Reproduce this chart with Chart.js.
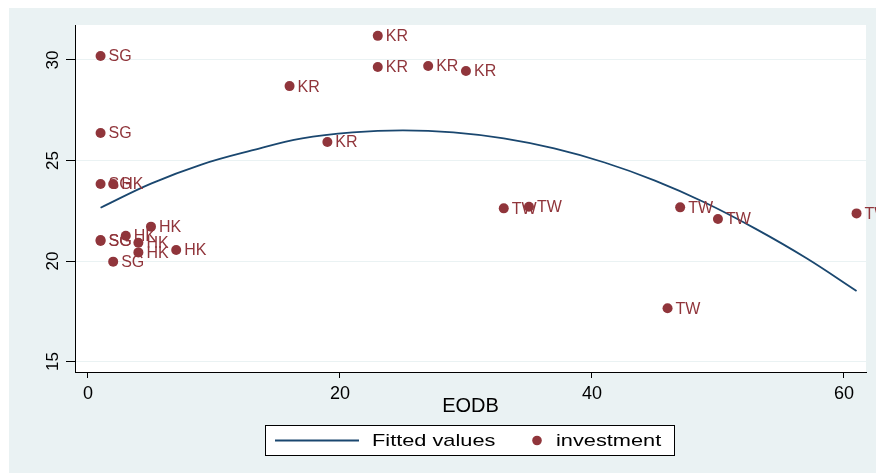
<!DOCTYPE html>
<html>
<head>
<meta charset="utf-8">
<script src="https://cdn.jsdelivr.net/npm/chart.js@4.4.1/dist/chart.umd.min.js"></script>
<style>
  html, body { margin: 0; padding: 0; background: #fff; }
  #wrap { width: 876px; height: 474px; }
</style>
</head>
<body>
<div id="wrap"><canvas id="chart" width="876" height="474"></canvas></div>
<script>
// investment vs EODB, one label per point
const pointLabels = [
  'SG', 'SG', 'SG', 'SG', 'SG', 'SG',
  'HK', 'HK', 'HK', 'HK', 'HK', 'HK',
  'KR', 'KR', 'KR', 'KR', 'KR', 'KR',
  'TW', 'TW', 'TW', 'TW', 'TW', 'TW'
];
const eodb = [
  1, 1, 1, 1, 1, 2,
  2, 3, 4, 4, 5, 7,
  23, 23, 27, 30, 16, 19,
  33, 35, 47, 50, 61, 46
];
const investment = [
  30.2, 26.37, 23.83, 21.04, 21.0, 19.97,
  23.83, 21.26, 20.91, 20.43, 21.71, 20.55,
  31.2, 29.65, 29.7, 29.45, 28.7, 25.92,
  22.62, 22.7, 22.67, 22.09, 22.37, 17.65
];

// fitted values, every 4 units
const fitX = [1, 5, 9, 13, 17, 21, 25, 29, 33, 37, 41, 45, 49, 53, 57, 61];
const fitY = [22.65, 23.85, 24.8, 25.5, 26.1, 26.4, 26.5, 26.4, 26.1, 25.6, 24.9, 24.0, 22.9, 21.6, 20.15, 18.51];

const xTicks = [0, 20, 40, 60];
const yTicks = [15, 20, 25, 30];

const MAROON = '#90353B';
const NAVY = '#1A476F';
const BG = '#EAF2F3';
const FONT = '"Liberation Sans", Arial, sans-serif';

Chart.defaults.font.family = FONT;
Chart.defaults.color = '#000';

const backgroundPlugin = {
  id: 'stataBackground',
  beforeDraw(chart) {
    const { ctx, chartArea } = chart;
    ctx.save();
    ctx.fillStyle = '#fff';
    ctx.fillRect(0, 0, chart.width, chart.height);
    ctx.fillStyle = BG;
    ctx.fillRect(9, 8, chart.width - 9, 465);
    ctx.fillStyle = '#fff';
    ctx.fillRect(chartArea.left, chartArea.top, chartArea.right - chartArea.left, chartArea.bottom - chartArea.top);
    ctx.restore();
  }
};

const labelPlugin = {
  id: 'pointLabels',
  afterDatasetsDraw(chart) {
    const meta = chart.getDatasetMeta(0);
    const { ctx } = chart;
    ctx.save();
    ctx.font = `16px ${FONT}`;
    ctx.fillStyle = MAROON;
    ctx.textBaseline = 'middle';
    meta.data.forEach((el, i) => {
      ctx.fillText(pointLabels[i], el.x + 8, el.y + 1);
    });
    ctx.restore();
  }
};

const legendPlugin = {
  id: 'boxLegend',
  afterDraw(chart) {
    const { ctx } = chart;
    ctx.save();
    ctx.fillStyle = '#fff';
    ctx.fillRect(265, 425, 409, 31);
    ctx.strokeStyle = '#000';
    ctx.lineWidth = 1;
    ctx.strokeRect(265.5, 425.5, 409, 30);

    ctx.strokeStyle = NAVY;
    ctx.lineWidth = 1.8;
    ctx.beginPath();
    ctx.moveTo(275, 440.5);
    ctx.lineTo(359, 440.5);
    ctx.stroke();

    ctx.fillStyle = MAROON;
    ctx.beginPath();
    ctx.arc(537, 440.5, 4.8, 0, Math.PI * 2);
    ctx.fill();

    ctx.fillStyle = '#000';
    ctx.font = `17px ${FONT}`;
    ctx.textBaseline = 'middle';
    [['Fitted values', 372], ['investment', 556]].forEach(([text, x]) => {
      ctx.save();
      ctx.translate(x, 441);
      ctx.scale(1.28, 1);
      ctx.fillText(text, 0, 0);
      ctx.restore();
    });
    ctx.restore();
  }
};

new Chart(document.getElementById('chart'), {
  type: 'scatter',
  data: {
    datasets: [
      {
        label: 'investment',
        data: eodb.map((x, i) => ({ x, y: investment[i] })),
        backgroundColor: MAROON,
        borderColor: MAROON,
        borderWidth: 0,
        pointRadius: 5,
        pointHoverRadius: 5
      },
      {
        label: 'Fitted values',
        data: fitX.map((x, i) => ({ x, y: fitY[i] })),
        showLine: true,
        borderColor: NAVY,
        borderWidth: 1.8,
        pointRadius: 0,
        tension: 0.4,
        fill: false
      }
    ]
  },
  options: {
    responsive: false,
    animation: false,
    devicePixelRatio: 1,
    layout: { padding: { left: 9, top: 25, right: 10, bottom: 50 } },
    plugins: {
      legend: { display: false },
      tooltip: { enabled: false }
    },
    scales: {
      x: {
        type: 'linear',
        min: -1.03,
        max: 61.75,
        afterBuildTicks(scale) { scale.ticks = xTicks.map(v => ({ value: v })); },
        afterFit(scale) { scale.height = 52; },
        grid: { drawOnChartArea: false, tickLength: 6, tickColor: '#000' },
        border: { color: '#000', width: 1 },
        ticks: { font: { size: 18 }, color: '#000', padding: 5 },
        title: { display: true, text: 'EODB', font: { size: 20 }, color: '#000', padding: { top: 0, bottom: 6 } }
      },
      y: {
        type: 'linear',
        min: 14.48,
        max: 31.74,
        afterBuildTicks(scale) { scale.ticks = yTicks.map(v => ({ value: v })); },
        afterFit(scale) { scale.width = 66; },
        grid: { color: BG, lineWidth: 1, tickLength: 9, tickColor: '#000' },
        border: { color: '#000', width: 1 },
        ticks: { font: { size: 17 }, color: '#000', padding: 3, minRotation: 90, maxRotation: 90, crossAlign: 'center' }
      }
    }
  },
  plugins: [backgroundPlugin, labelPlugin, legendPlugin]
});
</script>
</body>
</html>
